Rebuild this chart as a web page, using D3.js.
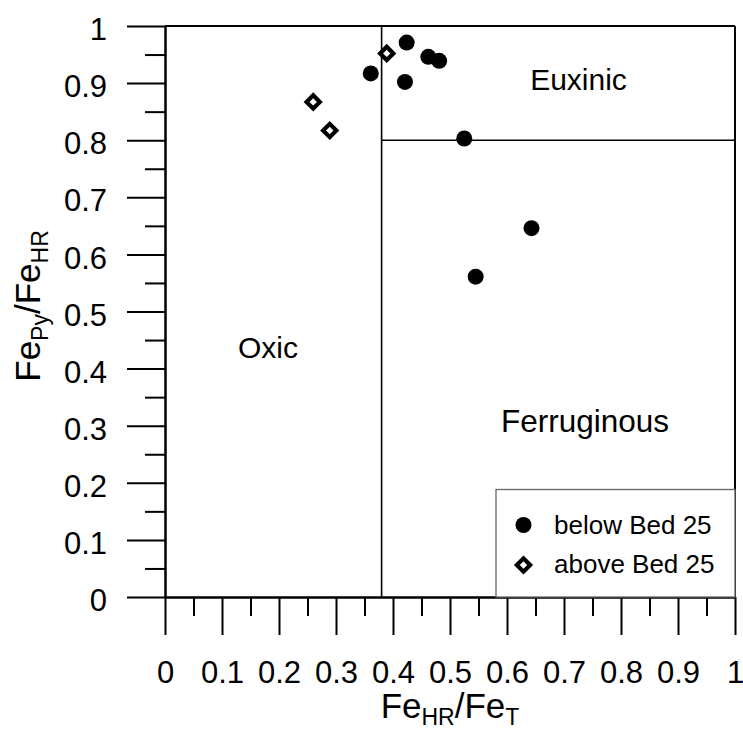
<!DOCTYPE html>
<html><head><meta charset="utf-8">
<script src="https://cdn.jsdelivr.net/npm/d3@7"></script>
<style>
html,body{margin:0;padding:0;background:#fff;}
svg text{font-family:"Liberation Sans",Arial,sans-serif;fill:#000;}
</style>
</head><body>
<svg id="chart" width="743" height="731"></svg>
<script>
// ---- data ----
const belowX = [0.424, 0.462, 0.481, 0.361, 0.421, 0.525, 0.643, 0.545];
const belowY = [0.971, 0.946, 0.939, 0.917, 0.902, 0.803, 0.646, 0.561];
const aboveX = [0.389, 0.260, 0.289];
const aboveY = [0.952, 0.867, 0.817];
const xTickValues = [0,0.1,0.2,0.3,0.4,0.5,0.6,0.7,0.8,0.9,1];
const xTickLabels = ["0","0.1","0.2","0.3","0.4","0.5","0.6","0.7","0.8","0.9","1"];
const yTickValues = [0,0.1,0.2,0.3,0.4,0.5,0.6,0.7,0.8,0.9,1];
const yTickLabels = ["0","0.1","0.2","0.3","0.4","0.5","0.6","0.7","0.8","0.9","1"];
const minorTicks = [0.05,0.15,0.25,0.35,0.45,0.55,0.65,0.75,0.85,0.95];
const fehrThreshold = 0.38;
const fepyThreshold = 0.8;
const seriesNames = ["below Bed 25","above Bed 25"];
const regionNames = ["Oxic","Euxinic","Ferruginous"];

// ---- layout ----
const svg = d3.select("#chart");
const L = 165, R = 735, T = 26, B = 597;
const x = d3.scaleLinear().domain([0,1]).range([L,R]);
const y = d3.scaleLinear().domain([0,1]).range([B,T]);

const lw = 2;
const tickFont = 31;
const diamondArea = 88;

// axes
const xMajor = d3.axisBottom(x).tickValues(xTickValues).tickSize(38).tickSizeOuter(0)
  .tickPadding(26).tickFormat((d,i)=>xTickLabels[i]);
const xMinor = d3.axisBottom(x).tickValues(minorTicks).tickSize(19).tickSizeOuter(0).tickFormat("");
const yMajor = d3.axisLeft(y).tickValues(yTickValues).tickSize(38).tickSizeOuter(0)
  .tickPadding(20).tickFormat((d,i)=>yTickLabels[i]);
const yMinor = d3.axisLeft(y).tickValues(minorTicks).tickSize(20).tickSizeOuter(0).tickFormat("");

function styleAxis(g){
  g.attr("font-size",null).attr("font-family",null);
  g.selectAll("path.domain").attr("stroke","#000").attr("stroke-width",lw);
  g.selectAll(".tick line").attr("stroke","#000").attr("stroke-width",lw);
  g.selectAll(".tick text").attr("font-size",tickFont).attr("fill","#000");
}
svg.append("g").attr("transform",`translate(0,${B})`).call(xMinor).call(styleAxis);
svg.append("g").attr("transform",`translate(0,${B})`).call(xMajor).call(styleAxis);
svg.append("g").attr("transform",`translate(${L},0)`).call(yMinor).call(styleAxis);
const gy = svg.append("g").attr("transform",`translate(${L},0)`).call(yMajor).call(styleAxis);
gy.selectAll(".tick text").attr("dy","0.44em");

// frame top & right
svg.append("line").attr("x1",x(0)).attr("x2",x(1)).attr("y1",y(1)).attr("y2",y(1)).attr("stroke","#000").attr("stroke-width",lw);
svg.append("line").attr("x1",x(1)).attr("x2",x(1)).attr("y1",y(0)).attr("y2",y(1)).attr("stroke","#000").attr("stroke-width",lw);

// thresholds
svg.append("line").attr("x1",x(fehrThreshold)).attr("x2",x(fehrThreshold)).attr("y1",y(0)).attr("y2",y(1)).attr("stroke","#000").attr("stroke-width",1.6);
svg.append("line").attr("x1",x(fehrThreshold)).attr("x2",x(1)).attr("y1",y(fepyThreshold)).attr("y2",y(fepyThreshold)).attr("stroke","#000").attr("stroke-width",1.6);

// region labels
const regionPos = [[268,357.7],[578.5,90],[585,431.7]];
const regionSize = [30,30,31.5];
regionNames.forEach((n,i)=>{
  svg.append("text").attr("x",regionPos[i][0]).attr("y",regionPos[i][1]).attr("text-anchor","middle")
    .attr("font-size",regionSize[i]).text(n);
});

// legend
const lg = svg.append("g");
lg.append("rect").attr("x",496).attr("y",489.5).attr("width",R-496).attr("height",B-489.5)
  .attr("fill","#fff").attr("stroke","#666").attr("stroke-width",1.3);
lg.append("circle").attr("cx",523.5).attr("cy",525).attr("r",8).attr("fill","#000");
lg.append("path").attr("d",d3.symbol(d3.symbolSquare,diamondArea)()).attr("transform","translate(523.5,565) rotate(45)")
  .attr("fill","#fff").attr("stroke","#000").attr("stroke-width",4.2);
lg.append("text").attr("x",554).attr("y",533.5).attr("font-size",26).text(seriesNames[0]);
lg.append("text").attr("x",554).attr("y",573).attr("font-size",26).text(seriesNames[1]);

// data markers
const below = belowX.map((v,i)=>({x:v,y:belowY[i]}));
const above = aboveX.map((v,i)=>({x:v,y:aboveY[i]}));
svg.append("g").selectAll("circle").data(below).join("circle")
  .attr("cx",d=>x(d.x)).attr("cy",d=>y(d.y)).attr("r",8).attr("fill","#000");
svg.append("g").selectAll("path").data(above).join("path")
  .attr("d",d3.symbol(d3.symbolSquare,diamondArea)())
  .attr("transform",d=>`translate(${x(d.x)},${y(d.y)}) rotate(45)`)
  .attr("fill","#fff").attr("stroke","#000").attr("stroke-width",4.2);

// axis titles
const xt = svg.append("text").attr("x",(L+R)/2).attr("y",718).attr("text-anchor","middle").attr("font-size",35);
xt.append("tspan").text("Fe");
xt.append("tspan").attr("font-size",23).attr("dy",7).text("HR");
xt.append("tspan").attr("dy",-7).text("/Fe");
xt.append("tspan").attr("font-size",23).attr("dy",7).text("T");

const yt = svg.append("text").attr("transform",`translate(40,306) rotate(-90)`).attr("text-anchor","middle").attr("font-size",35);
yt.append("tspan").text("Fe");
yt.append("tspan").attr("font-size",23).attr("dy",8).text("Py");
yt.append("tspan").attr("dy",-8).text("/Fe");
yt.append("tspan").attr("font-size",23).attr("dy",8).text("HR");
</script>
</body></html>
